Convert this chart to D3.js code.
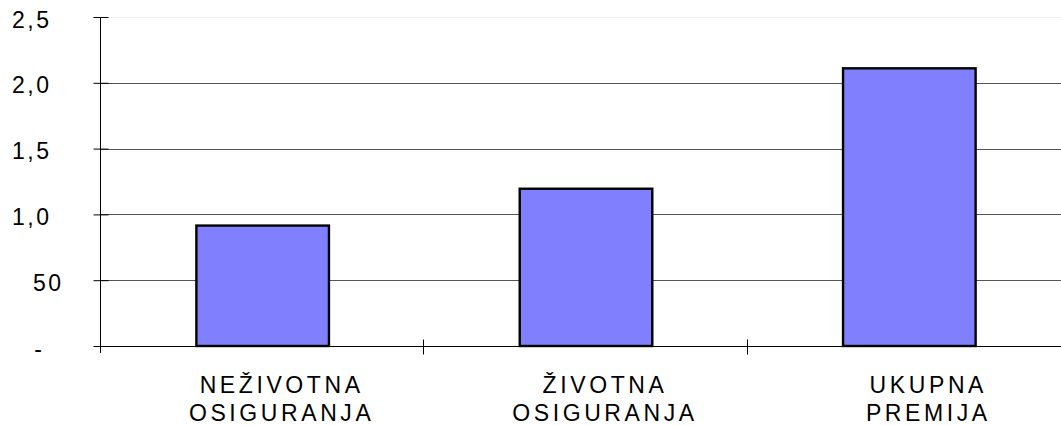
<!DOCTYPE html>
<html>
<head>
<meta charset="utf-8">
<script src="https://cdn.jsdelivr.net/npm/d3@7"></script>
<style>
  body { margin: 0; background: #fff; }
  svg { display: block; }
</style>
</head>
<body>
<div id="chart"></div>
<script>
var width = 1061;
var height = 425;

// data
var categories = ["NEŽIVOTNA\nOSIGURANJA", "ŽIVOTNA\nOSIGURANJA", "UKUPNA\nPREMIJA"];
var premija = [915000, 1195000, 2110000];
var tickValues = [0, 500000, 1000000, 1500000, 2000000, 2500000];
var tickLabels = ["-", "50", "1,0", "1,5", "2,0", "2,5"];

var margin = {top: 17, left: 100, bottom: 79};

var svg = d3.select("#chart")
    .append("svg")
    .attr("width", width)
    .attr("height", height)
    .attr("font-family", "'Liberation Sans', Arial, sans-serif");

var x = d3.scaleBand()
    .domain(categories)
    .range([margin.left, 1070])
    .paddingInner(0)
    .paddingOuter(0);

var y = d3.scaleLinear()
    .domain([0, 2500000])
    .range([height - margin.bottom, margin.top]);

// gridlines
svg.append("g")
    .selectAll("line")
    .data(tickValues.slice(1))
  .enter().append("line")
    .attr("x1", margin.left)
    .attr("x2", width)
    .attr("y1", function(d) { return Math.round(y(d)) + 0.5; })
    .attr("y2", function(d) { return Math.round(y(d)) + 0.5; })
    .attr("stroke", function(d) { return d === 2500000 ? "#eeeeee" : "#555"; })
    .attr("stroke-width", 1.2);

// bars
var barW = x.bandwidth() * 0.41;
svg.append("g")
    .selectAll("rect")
    .data(premija)
  .enter().append("rect")
    .attr("x", function(d, i) { return x(categories[i]) + (x.bandwidth() - barW) / 2 + 1; })
    .attr("y", function(d) { return y(d); })
    .attr("width", barW)
    .attr("height", function(d) { return y(0) - y(d); })
    .attr("fill", "#8080ff")
    .attr("stroke", "#000")
    .attr("stroke-width", 2.4);

// y axis
var yAxis = d3.axisLeft(y)
    .tickValues(tickValues)
    .tickSizeInner(-7)
    .tickSizeOuter(0)
    .tickFormat(function(d, i) { return tickLabels[i]; });

var ya = svg.append("g")
    .attr("transform", "translate(" + (margin.left + 0.5) + ",0)")
    .call(yAxis);
ya.select(".domain").remove();
ya.append("line")
    .attr("y1", margin.top)
    .attr("y2", y(0) + 7)
    .attr("stroke", "#000");
ya.selectAll(".tick line")
    .attr("x1", -7)
    .attr("x2", 8)
    .attr("stroke", "#000");
ya.selectAll(".tick text")
    .attr("fill", "#000")
    .attr("font-size", 23)
    .attr("letter-spacing", 2.5)
    .attr("dy", 10)
    .attr("text-anchor", "end")
    .attr("x", function(d, i) {
      var l = tickLabels[i];
      if (l === "-") return 44 - margin.left;
      if (l.indexOf(",") < 0) return 63 - margin.left;
      return 51 - margin.left;
    });

// x axis
var xa = svg.append("g")
    .attr("transform", "translate(0," + (Math.round(y(0)) + 0.5) + ")");
xa.append("line")
    .attr("x1", margin.left)
    .attr("x2", width)
    .attr("stroke", "#000")
    .attr("stroke-width", 1.2);
xa.selectAll(".cat-tick")
    .data(categories.slice(1))
  .enter().append("line")
    .attr("class", "cat-tick")
    .attr("x1", function(d) { return Math.round(x(d)) + 0.5; })
    .attr("x2", function(d) { return Math.round(x(d)) + 0.5; })
    .attr("y1", -7)
    .attr("y2", 8)
    .attr("stroke", "#000");

var labels = xa.selectAll(".cat-label")
    .data(categories)
  .enter().append("text")
    .attr("class", "cat-label")
    .attr("text-anchor", "middle")
    .attr("font-size", 23)
    .attr("letter-spacing", 3.6)
    .attr("fill", "#000");

labels.selectAll("tspan")
    .data(function(d) { return d.split("\n").map(function(t) { return {t: t, c: d}; }); })
  .enter().append("tspan")
    .attr("x", function(d) { return x(d.c) + x.bandwidth() / 2 + 20; })
    .attr("y", function(d, i) { return 46 + i * 28; })
    .text(function(d) { return d.t; });
</script>
</body>
</html>
